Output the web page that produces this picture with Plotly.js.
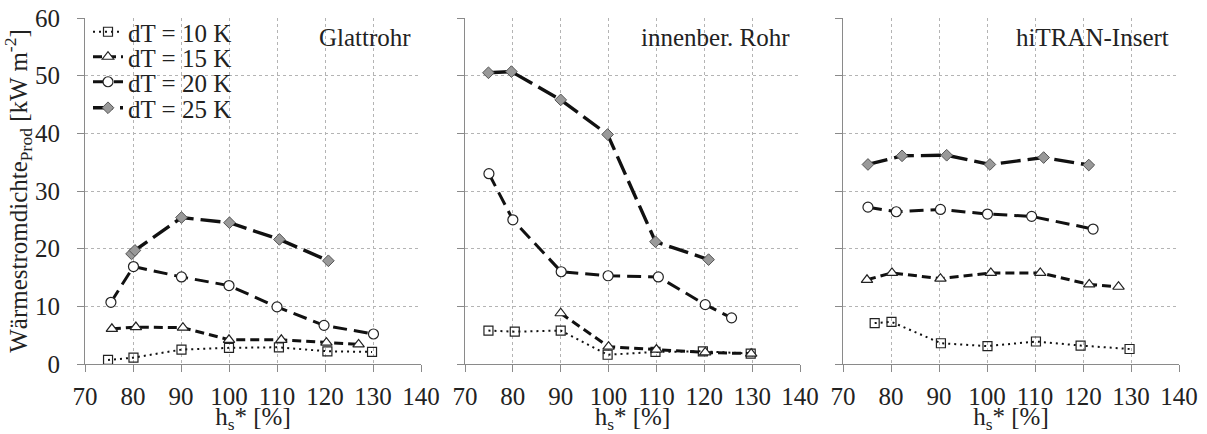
<!DOCTYPE html>
<html><head><meta charset="utf-8">
<script src="https://cdn.plot.ly/plotly-3.0.1.min.js"></script>
<style>html,body{margin:0;padding:0;background:#fff}#chart{width:1207px;height:434px}</style>
</head><body><div id="chart"></div>
<script>
// Panel titles and series names
const panelTitles = ["Glattrohr", "innenber. Rohr", "hiTRAN-Insert"];
const seriesNames = ["dT = 10 K", "dT = 15 K", "dT = 20 K", "dT = 25 K"];
const xTicks = [70, 80, 90, 100, 110, 120, 130, 140];
const yTicks = [0, 10, 20, 30, 40, 50, 60];

// Glattrohr
const g10x = [74.8, 80.1, 90.1, 100, 110.4, 120.5, 129.8];
const g10y = [0.7, 1.1, 2.5, 2.8, 2.9, 2.2, 2.1];
const g15x = [75.6, 80.6, 90.4, 100, 110.9, 120.3, 127];
const g15y = [6.1, 6.4, 6.3, 4.2, 4.2, 3.7, 3.4];
const g20x = [75.4, 80.1, 90.1, 100, 110, 119.8, 130.1];
const g20y = [10.7, 16.9, 15.1, 13.6, 9.9, 6.7, 5.2];
const g25x = [79.7, 80.4, 90.1, 100.1, 110.5, 120.7];
const g25y = [19.1, 19.7, 25.4, 24.5, 21.6, 17.9];

// innenber. Rohr
const i10x = [74.9, 80.4, 90, 99.8, 109.8, 119.7, 129.7];
const i10y = [5.8, 5.6, 5.8, 1.6, 2.1, 2.2, 1.8];
const i15x = [90, 100, 110, 120.2, 129.8];
const i15y = [8.8, 3.0, 2.5, 2.0, 1.8];
const i20x = [75, 80, 90.1, 99.9, 110.4, 120.2, 125.7];
const i20y = [33.0, 25.0, 16.0, 15.3, 15.1, 10.3, 8.0];
const i25x = [74.9, 79.7, 90, 99.8, 109.8, 120.9];
const i25y = [50.5, 50.7, 45.8, 39.8, 21.2, 18.1];

// hiTRAN-Insert
const h10x = [76.6, 80.1, 90.4, 100.1, 110.2, 119.5, 129.7];
const h10y = [7.1, 7.3, 3.6, 3.1, 3.9, 3.2, 2.6];
const h15x = [75, 80.2, 90.3, 100.8, 111.1, 121.3, 127.4];
const h15y = [14.6, 15.8, 14.8, 15.8, 15.8, 13.8, 13.4];
const h20x = [75.2, 81.1, 90.3, 100.1, 109.3, 122.1];
const h20y = [27.2, 26.4, 26.8, 26.0, 25.6, 23.4];
const h25x = [75.2, 82.3, 91.6, 100.6, 111.8, 121.2];
const h25y = [34.6, 36.1, 36.2, 34.6, 35.8, 34.5];

const panels = [
  [[g10x,g10y],[g15x,g15y],[g20x,g20y],[g25x,g25y]],
  [[i10x,i10y],[i15x,i15y],[i20x,i20y],[i25x,i25y]],
  [[h10x,h10y],[h15x,h15y],[h20x,h20y],[h25x,h25y]]
];

const FONT = "'Liberation Serif', 'Times New Roman', Times, serif";
const TXT = "#222";
const lineStyles = [
  {color:"#111", width:2, dash:"2px,4px"},
  {color:"#111", width:3, dash:"9px,5px"},
  {color:"#111", width:3, dash:"14px,7px"},
  {color:"#111", width:3.4, dash:"20px,7px"}
];
const markerStyles = [
  {symbol:"square", size:9, color:"rgba(255,255,255,0)", line:{color:"#222", width:1.2}},
  {symbol:"triangle-up", size:10, color:"#fff", line:{color:"#222", width:1.2}},
  {symbol:"circle", size:10, color:"#fff", line:{color:"#222", width:1.2}},
  {symbol:"diamond", size:9, color:"#999", line:{color:"#555", width:1}}
];
const legendIds = ["legend","legend2","legend3","legend4"];

const traces = [];
panels.forEach((p, pi) => {
  p.forEach((s, si) => {
    const suf = pi === 0 ? "" : String(pi+1);
    traces.push({
      type:"scatter", mode:"lines+markers",
      x:s[0], y:s[1], name:seriesNames[si],
      xaxis:"x"+suf, yaxis:"y"+suf,
      line:lineStyles[si], marker:markerStyles[si],
      showlegend: pi === 0, legend: legendIds[si],
      cliponaxis:false
    });
  });
});

const W = 1207;
const domains = [[85/W, 421/W],[465/W, 800/W],[843/W, 1179/W]];
const gridCol = "#b4b4b4", axCol = "#8a8a8a";
function xax(i){
  return {domain:domains[i], range:[70,140], tickvals:xTicks, ticktext:xTicks.map(String),
    showgrid:true, gridcolor:gridCol, griddash:"dot", gridwidth:1,
    showline:true, linecolor:axCol, linewidth:1, ticks:"outside", ticklen:7, tickcolor:axCol,
    zeroline:false, tickfont:{family:FONT,size:25,color:TXT}, ticklabelstandoff:3,
    anchor: i===0 ? "y" : "y"+(i+1),
    title:{text:"h<sub>s</sub>* [%]", font:{family:FONT,size:25,color:TXT}, standoff:6}};
}
function yax(i){
  const a = {domain:[0,1], range:[0,60], tickvals:yTicks, ticktext:yTicks.map(String),
    showgrid:true, gridcolor:gridCol, griddash:"dot", gridwidth:1,
    showline:true, linecolor:axCol, linewidth:1, ticks:"outside", ticklen:7, tickcolor:axCol,
    zeroline:false, showticklabels: i===0, tickfont:{family:FONT,size:25,color:TXT}, ticklabelstandoff:12,
    anchor: i===0 ? "x" : "x"+(i+1)};
  if (i===0) a.title = {text:"Wärmestromdichte<sub>Prod</sub> [kW m<sup>-2</sup>]", font:{family:FONT,size:25,color:TXT}, standoff:0};
  return a;
}
const legendYs = [32, 57, 82, 108].map(py => 1 - (py-18)/346);
const layout = {
  width:1207, height:434, margin:{l:0,r:0,t:18,b:70},
  paper_bgcolor:"#fff", plot_bgcolor:"#fff",
  font:{family:FONT, size:25, color:TXT},
  xaxis:xax(0), xaxis2:xax(1), xaxis3:xax(2),
  yaxis:yax(0), yaxis2:yax(1), yaxis3:yax(2),
  annotations: panelTitles.map((t,i) => ({
    text:t, xref:(i===0?"x":"x"+(i+1))+" domain", yref:"y domain",
    x:1, y:1-(38-18)/346, xanchor:"right", yanchor:"middle", xshift:-8,
    showarrow:false, font:{family:FONT,size:25,color:TXT}
  }))
};
legendIds.forEach((id, k) => {
  layout[id] = {x:88/W, y:legendYs[k], xanchor:"left", yanchor:"middle",
    bgcolor:"rgba(0,0,0,0)", borderwidth:0, font:{family:FONT,size:25,color:TXT}};
});
Plotly.newPlot("chart", traces, layout, {staticPlot:true, displayModeBar:false});
</script></body></html>
